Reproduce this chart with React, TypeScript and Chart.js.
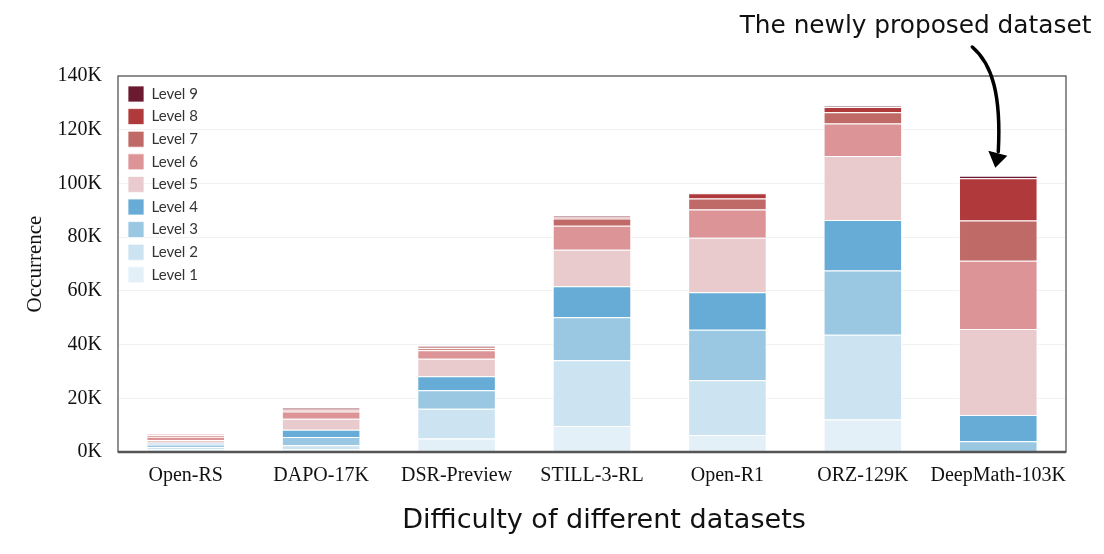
import { useEffect, useRef } from "react";
import { Chart, registerables } from "chart.js";

Chart.register(...registerables);

const categories = ["Open-RS", "DAPO-17K", "DSR-Preview", "STILL-3-RL", "Open-R1", "ORZ-129K", "DeepMath-103K"];

// values in thousands
const level1 = [1.0, 1.0, 5.0, 9.7, 6.3, 12.1, 0];
const level2 = [0.9, 1.5, 11.1, 24.5, 20.4, 31.6, 0];
const level3 = [0.9, 3.1, 6.9, 16.0, 18.8, 23.9, 4.0];
const level4 = [0.6, 2.7, 5.2, 11.5, 14.0, 18.8, 9.8];
const level5 = [1.1, 4.1, 6.5, 13.6, 20.3, 23.8, 32.0];
const level6 = [1.2, 2.7, 3.2, 8.9, 10.5, 12.1, 25.4];
const level7 = [0.5, 0.6, 0.7, 2.7, 4.1, 4.2, 15.0];
const level8 = [0.4, 0.4, 0.7, 0.7, 1.9, 2.0, 15.7];
const level9 = [0.1, 0.4, 0.3, 0.3, 0.2, 0.2, 1.0];

const levelNames = ["Level 1", "Level 2", "Level 3", "Level 4", "Level 5", "Level 6", "Level 7", "Level 8", "Level 9"];
const levelData = [level1, level2, level3, level4, level5, level6, level7, level8, level9];
const levelColors = ["#e3f0f8", "#cce3f1", "#9ac8e3", "#67acd6", "#eacbcd", "#dc9496", "#c06a67", "#b0393b", "#6b1a30"];

const yMax = 140000;
const yStep = 20000;

const yTitle = "Occurrence";
const xTitle = "Difficulty of different datasets";
const annotationText = "The newly proposed dataset";
const highlightIndex = 6;

const handFont = "'DejaVu Sans'";

function fitSize(ctx: CanvasRenderingContext2D, text: string, targetW: number) {
  ctx.font = `100px ${handFont}`;
  const w = ctx.measureText(text).width;
  return (100 * targetW) / w;
}

const decorPlugin = {
  id: "decor",
  afterLayout(chart: any) {
    const lg = chart.legend;
    const a = chart.chartArea;
    if (lg && a) {
      const w = lg.width;
      const h = lg.height;
      lg.left = a.left + 3.4;
      lg.right = lg.left + w;
      lg.top = a.top + 3.4;
      lg.bottom = lg.top + h;
    }
  },
  afterDraw(chart: any) {
    const { ctx, chartArea: a } = chart;
    ctx.save();
    // plot frame
    ctx.strokeStyle = "#555";
    ctx.lineWidth = 1.3;
    ctx.strokeRect(a.left, a.top, a.right - a.left, a.bottom - a.top);
    ctx.lineWidth = 2.4;
    ctx.beginPath();
    ctx.moveTo(a.left, a.bottom);
    ctx.lineTo(a.right, a.bottom);
    ctx.stroke();

    // hand-styled texts
    ctx.fillStyle = "#111";
    ctx.textAlign = "center";
    ctx.textBaseline = "middle";
    let s = fitSize(ctx, xTitle, 404);
    ctx.font = `${s}px ${handFont}`;
    ctx.fillText(xTitle, 604, 521);
    s = fitSize(ctx, annotationText, 352);
    ctx.font = `${s}px ${handFont}`;
    ctx.fillText(annotationText, 915.5, 27);

    // arrow to highlighted bar
    const xs = chart.scales.x;
    const ys = chart.scales.y;
    let total = 0;
    levelData.forEach((arr) => (total += arr[highlightIndex] * 1000));
    const xc = xs.getPixelForValue(highlightIndex);
    const top = ys.getPixelForValue(total);
    const tipX = xc - 3;
    const tipY = top - 8;
    ctx.strokeStyle = "#000";
    ctx.fillStyle = "#000";
    ctx.lineWidth = 3.5;
    ctx.lineCap = "round";
    ctx.beginPath();
    ctx.moveTo(xc - 26, 47);
    ctx.bezierCurveTo(xc - 6, 64, xc + 3, 95, tipX + 3, tipY - 16);
    ctx.stroke();
    ctx.beginPath();
    ctx.moveTo(tipX - 7, tipY - 17);
    ctx.lineTo(tipX + 12, tipY - 12);
    ctx.lineTo(tipX, tipY);
    ctx.closePath();
    ctx.fill();
    ctx.restore();
  },
};

export default function App() {
  const ref = useRef<HTMLCanvasElement | null>(null);
  useEffect(() => {
    if (!ref.current) return;
    const chart = new Chart(ref.current, {
      type: "bar",
      data: {
        labels: categories,
        datasets: levelNames.map((name, i) => ({
          label: name,
          data: levelData[i].map((v) => v * 1000),
          backgroundColor: levelColors[i],
          borderColor: "rgba(255,255,255,0.75)",
          borderWidth: 1,
          barPercentage: 0.58,
          categoryPercentage: 1,
        })),
      },
      options: {
        animation: false,
        responsive: true,
        maintainAspectRatio: false,
        layout: { padding: { left: 0, top: 76, right: 38, bottom: 0 } },
        plugins: {
          legend: {
            position: "chartArea" as any,
            align: "start",
            reverse: true,
            labels: {
              boxWidth: 16,
              boxHeight: 16,
              padding: 6.6,
              color: "#333",
              font: { family: "Lato", size: 15 },
            },
          },
          tooltip: { enabled: false },
        },
        scales: {
          x: {
            stacked: true,
            grid: { display: false, drawTicks: false },
            border: { display: false },
            ticks: {
              color: "#111",
              padding: 12,
              maxRotation: 0,
              minRotation: 0,
              autoSkip: false,
              font: { family: "'Liberation Serif'", size: 20 },
            },
            afterFit: (scale: any) => {
              scale.height = 102;
            },
          },
          y: {
            stacked: true,
            min: 0,
            max: yMax,
            grid: { color: "rgba(0,0,0,0.05)", drawTicks: false },
            border: { display: false },
            ticks: {
              stepSize: yStep,
              padding: 16,
              color: "#111",
              font: { family: "'Liberation Serif'", size: 20 },
              callback: (v: any) => `${Number(v) / 1000}K`,
            },
            title: {
              display: true,
              text: yTitle,
              color: "#111",
              font: { family: "'Liberation Serif'", size: 21 },
              padding: { top: 22.4, bottom: 0 },
            },
            afterFit: (scale: any) => {
              scale.width = 118;
            },
          },
        },
      },
      plugins: [decorPlugin],
    });
    return () => chart.destroy();
  }, []);
  return (
    <div style={{ position: "fixed", left: 0, top: 0, width: 1104, height: 554, background: "#fff" }}>
      <canvas ref={ref} />
    </div>
  );
}
